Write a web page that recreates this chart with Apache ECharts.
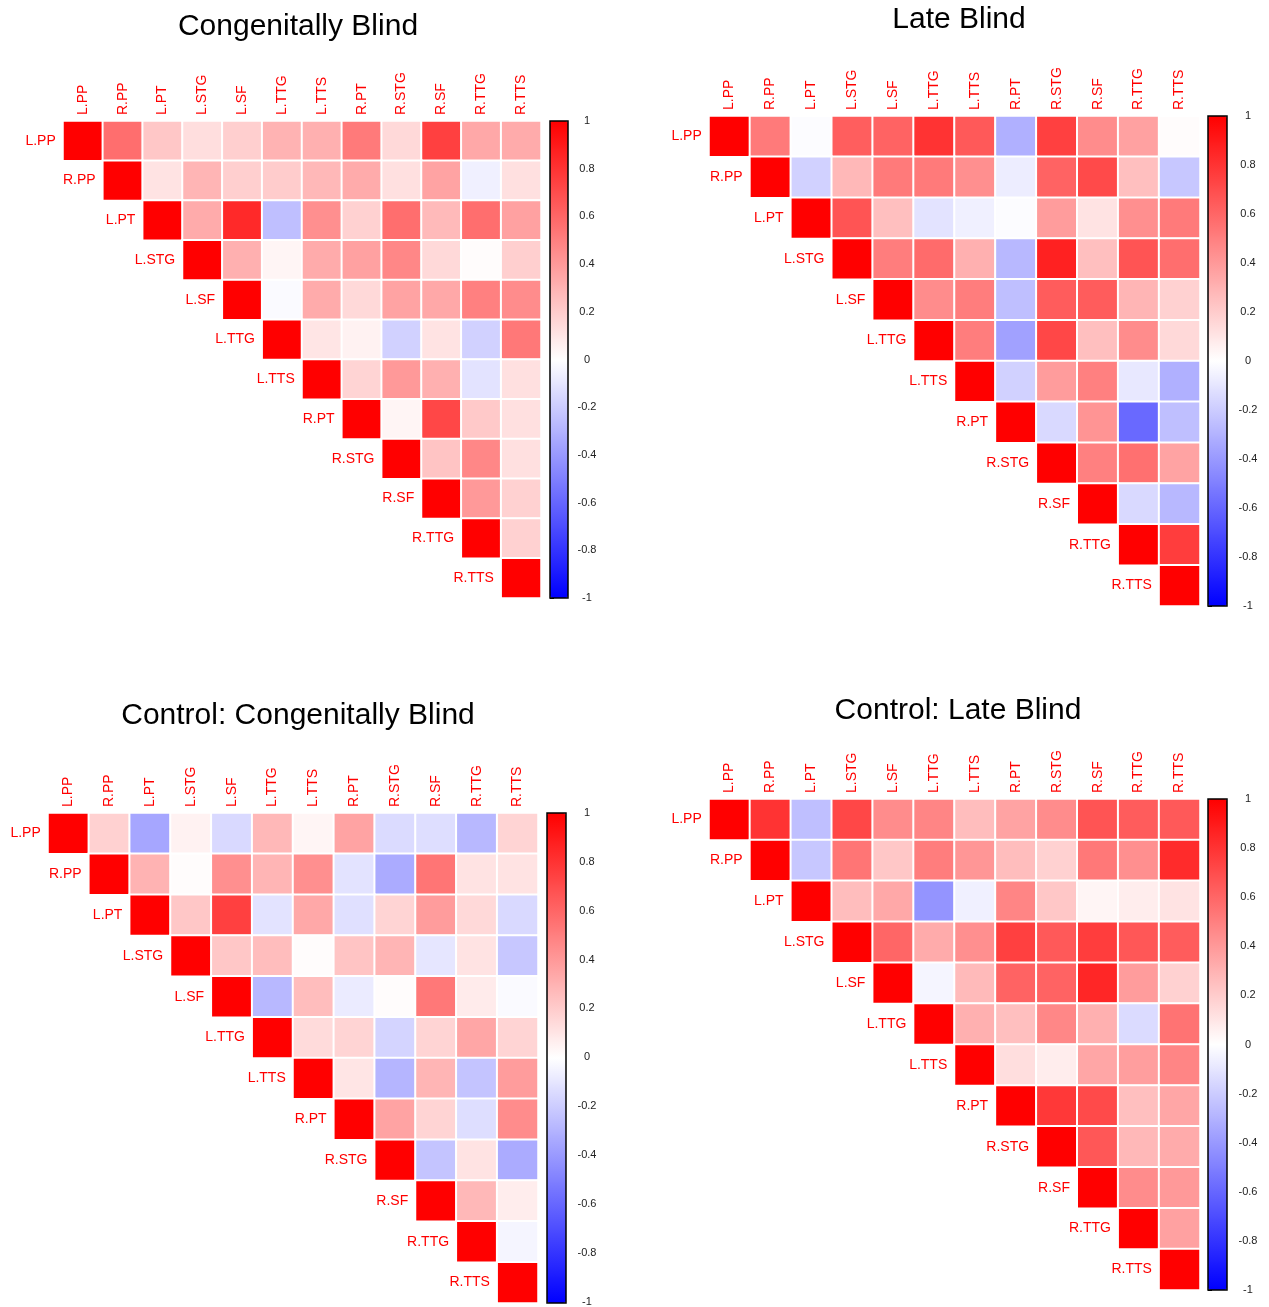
<!DOCTYPE html>
<html>
<head>
<meta charset="utf-8">
<title>Correlation matrices</title>
<script src="https://cdn.jsdelivr.net/npm/echarts@6/dist/echarts.min.js"></script>
<style>
  html, body { margin: 0; padding: 0; background: #ffffff; }
  #chart { width: 1269px; height: 1307px; }
</style>
</head>
<body>
<div id="chart"></div>
<script>
// Region names (rows and columns of every matrix)
const REGIONS = ['L.PP', 'R.PP', 'L.PT', 'L.STG', 'L.SF', 'L.TTG', 'L.TTS', 'R.PT', 'R.STG', 'R.SF', 'R.TTG', 'R.TTS'];

// Panel titles
const TITLE_CB = 'Congenitally Blind';
const TITLE_LB = 'Late Blind';
const TITLE_CCB = 'Control: Congenitally Blind';
const TITLE_CLB = 'Control: Late Blind';

// Upper-triangle correlations, row by row, starting at the diagonal
const congenitalRows = [
  [1, 0.57, 0.22, 0.13, 0.19, 0.30, 0.31, 0.52, 0.15, 0.75, 0.34, 0.33],
  [1, 0.11, 0.29, 0.19, 0.20, 0.28, 0.33, 0.12, 0.36, -0.06, 0.12],
  [1, 0.33, 0.84, -0.25, 0.44, 0.18, 0.57, 0.27, 0.57, 0.37],
  [1, 0.31, 0.04, 0.33, 0.37, 0.47, 0.15, 0.01, 0.19],
  [1, -0.02, 0.33, 0.15, 0.36, 0.34, 0.50, 0.45],
  [1, 0.10, 0.05, -0.18, 0.11, -0.18, 0.53],
  [1, 0.17, 0.40, 0.31, -0.11, 0.12],
  [1, 0.04, 0.72, 0.21, 0.12],
  [1, 0.23, 0.47, 0.12],
  [1, 0.40, 0.18],
  [1, 0.18],
  [1]
];

const lateRows = [
  [1, 0.52, -0.01, 0.63, 0.61, 0.80, 0.65, -0.31, 0.75, 0.45, 0.37, 0.01],
  [1, -0.18, 0.28, 0.52, 0.52, 0.44, -0.07, 0.61, 0.71, 0.25, -0.22],
  [1, 0.67, 0.25, -0.11, -0.06, -0.01, 0.39, 0.11, 0.44, 0.52],
  [1, 0.51, 0.58, 0.31, -0.28, 0.87, 0.25, 0.67, 0.57],
  [1, 0.45, 0.51, -0.25, 0.64, 0.64, 0.29, 0.18],
  [1, 0.51, -0.37, 0.72, 0.25, 0.45, 0.15],
  [1, -0.18, 0.39, 0.50, -0.09, -0.31],
  [1, -0.15, 0.42, -0.59, -0.25],
  [1, 0.50, 0.56, 0.36],
  [1, -0.15, -0.28],
  [1, 0.76],
  [1]
];

const controlCongenitalRows = [
  [1, 0.18, -0.35, 0.05, -0.15, 0.28, 0.04, 0.36, -0.14, -0.13, -0.28, 0.17],
  [1, 0.30, 0.01, 0.44, 0.29, 0.44, -0.11, -0.33, 0.54, 0.11, 0.11],
  [1, 0.22, 0.75, -0.11, 0.34, -0.12, 0.17, 0.39, 0.15, -0.15],
  [1, 0.22, 0.26, 0.01, 0.23, 0.29, -0.10, 0.11, -0.22],
  [1, -0.28, 0.26, -0.08, 0.01, 0.53, 0.08, -0.02],
  [1, 0.14, 0.17, -0.17, 0.17, 0.35, 0.17],
  [1, 0.10, -0.29, 0.29, -0.23, 0.39],
  [1, 0.36, 0.17, -0.13, 0.45],
  [1, -0.23, 0.11, -0.33],
  [1, 0.28, 0.07],
  [1, -0.04],
  [1]
];

const controlLateRows = [
  [1, 0.80, -0.25, 0.72, 0.45, 0.48, 0.26, 0.36, 0.45, 0.67, 0.64, 0.65],
  [1, -0.22, 0.54, 0.22, 0.51, 0.41, 0.26, 0.18, 0.53, 0.44, 0.83],
  [1, 0.26, 0.34, -0.42, -0.06, 0.48, 0.22, 0.04, 0.07, 0.11],
  [1, 0.60, 0.33, 0.44, 0.75, 0.65, 0.76, 0.66, 0.64],
  [1, -0.04, 0.27, 0.61, 0.61, 0.85, 0.39, 0.18],
  [1, 0.31, 0.25, 0.47, 0.31, -0.14, 0.55],
  [1, 0.13, 0.07, 0.35, 0.38, 0.48],
  [1, 0.78, 0.71, 0.25, 0.35],
  [1, 0.66, 0.28, 0.33],
  [1, 0.45, 0.40],
  [1, 0.37],
  [1]
];

// Colour-bar scale
const SCALE_MIN = -1;
const SCALE_MAX = 1;
const SCALE_STEP = 0.2;
const SCALE_COLORS = ['#0000FF', '#FFFFFF', '#FF0000'];

const FONT = 'Liberation Sans, Arial, Helvetica, sans-serif';
const LABEL_RED = '#FF0000';

// Layout of the four panels (matrix area, colour bar, title anchor)
const panels = [
  { title: TITLE_CB,  rows: congenitalRows,        titleX: 298, titleY: 12,
    left: 63,  top: 121, width: 478, height: 477, barLeft: 550,  barWidth: 18, tickMargin: 19 },
  { title: TITLE_LB,  rows: lateRows,              titleX: 959, titleY: 5,
    left: 709, top: 116, width: 491, height: 490, barLeft: 1208, barWidth: 19, tickMargin: 21 },
  { title: TITLE_CCB, rows: controlCongenitalRows, titleX: 298, titleY: 701,
    left: 48,  top: 813, width: 490, height: 490, barLeft: 547,  barWidth: 19, tickMargin: 21 },
  { title: TITLE_CLB, rows: controlLateRows,       titleX: 958, titleY: 696,
    left: 709, top: 799, width: 491, height: 491, barLeft: 1208, barWidth: 19, tickMargin: 21 }
];

const chart = echarts.init(document.getElementById('chart'), null, { renderer: 'canvas' });

const option = {
  backgroundColor: '#ffffff',
  animation: false,
  title: [],
  grid: [],
  xAxis: [],
  yAxis: [],
  visualMap: [],
  series: [],
  graphic: []
};

panels.forEach((p, k) => {
  const heatGrid = 2 * k;
  const barGrid = 2 * k + 1;

  option.title.push({
    text: p.title,
    left: p.titleX,
    top: p.titleY,
    textAlign: 'center',
    padding: 0,
    textStyle: { fontSize: 30, fontWeight: 'normal', color: '#000000', fontFamily: FONT }
  });

  // matrix grid
  option.grid.push({ left: p.left, top: p.top, width: p.width, height: p.height, containLabel: false });
  // colour-bar grid
  option.grid.push({ left: p.barLeft, top: p.top, width: p.barWidth, height: p.height, containLabel: false });

  option.xAxis.push({
    type: 'category',
    gridIndex: heatGrid,
    position: 'top',
    data: REGIONS,
    axisLine: { show: false },
    axisTick: { show: false },
    splitLine: { show: false },
    axisLabel: {
      interval: 0, rotate: -90, margin: 6,
      color: LABEL_RED, fontSize: 14, fontFamily: FONT
    }
  });
  option.xAxis.push({ type: 'value', gridIndex: barGrid, show: false, min: 0, max: 1 });

  option.yAxis.push({
    type: 'category',
    gridIndex: heatGrid,
    inverse: true,
    data: REGIONS,
    show: false
  });
  option.yAxis.push({
    type: 'value',
    gridIndex: barGrid,
    position: 'right',
    min: SCALE_MIN,
    max: SCALE_MAX,
    interval: SCALE_STEP,
    axisLine: { show: false },
    splitLine: { show: false },
    axisTick: { show: true, length: 4, lineStyle: { color: '#000000', width: 1 } },
    axisLabel: {
      margin: p.tickMargin, align: 'center',
      color: '#222222', fontSize: 11, fontFamily: FONT,
      formatter: v => String(Math.round(v * 10) / 10)
    }
  });

  // cells of the upper triangle; diagonal cells carry the row label on their left
  const cells = [];
  p.rows.forEach((row, i) => {
    row.forEach((v, off) => {
      const j = i + off;
      if (off === 0) {
        cells.push({
          value: [j, i, v],
          label: {
            show: true, position: 'left', distance: 6,
            formatter: REGIONS[i], color: LABEL_RED, fontSize: 14, fontFamily: FONT
          }
        });
      } else {
        cells.push({ value: [j, i, v] });
      }
    });
  });

  option.series.push({
    type: 'heatmap',
    xAxisIndex: heatGrid,
    yAxisIndex: heatGrid,
    data: cells,
    silent: true,
    itemStyle: { borderColor: '#ffffff', borderWidth: 2 },
    label: { show: false },
    emphasis: { disabled: true }
  });

  option.visualMap.push({
    type: 'continuous',
    seriesIndex: k,
    min: SCALE_MIN,
    max: SCALE_MAX,
    inRange: { color: SCALE_COLORS },
    calculable: false,
    hoverLink: false,
    orient: 'vertical',
    left: p.barLeft,
    top: p.top,
    padding: 0,
    itemWidth: p.barWidth,
    itemHeight: p.height,
    text: null,
    showLabel: false
  });

  // outline of the colour bar
  option.graphic.push({
    type: 'rect',
    z: 100,
    silent: true,
    shape: { x: p.barLeft, y: p.top, width: p.barWidth, height: p.height },
    style: { fill: 'none', stroke: '#000000', lineWidth: 1.5 }
  });
});

chart.setOption(option);
</script>
</body>
</html>
